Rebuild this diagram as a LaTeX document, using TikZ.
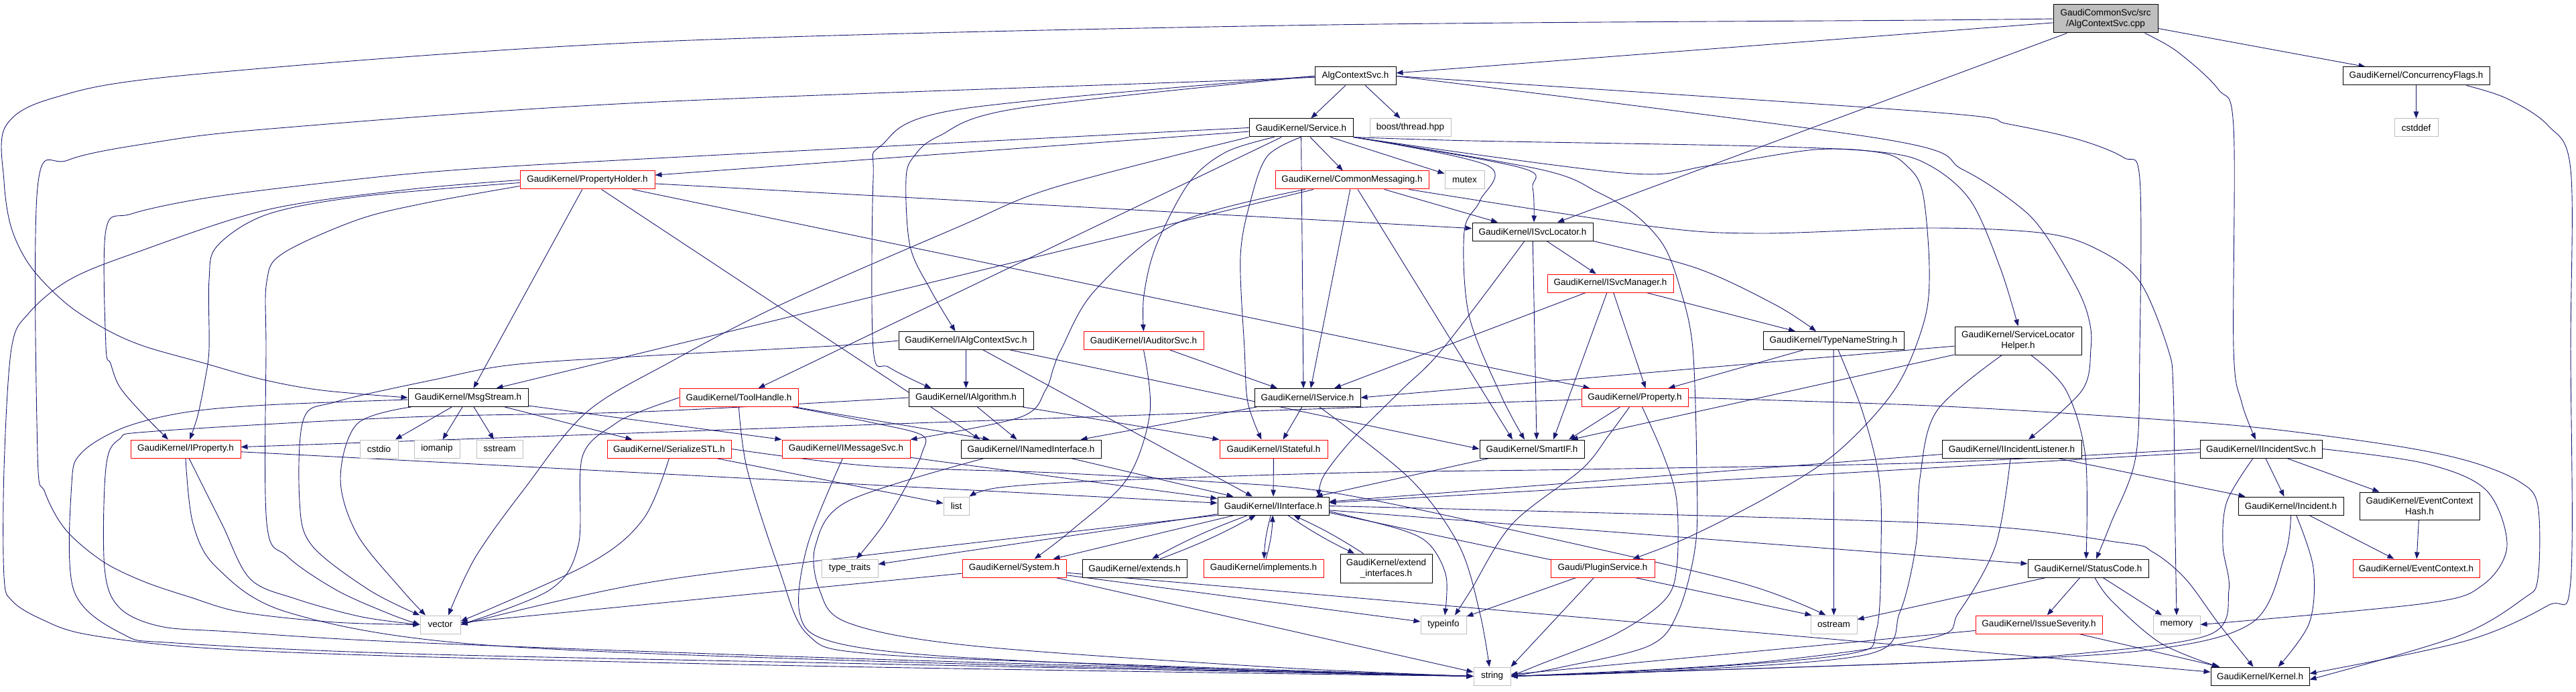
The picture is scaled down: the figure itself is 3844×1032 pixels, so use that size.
\documentclass[tikz,border=0pt]{standalone}
\usepackage{fontspec}
\newfontfamily\doxfont{Liberation Sans}
\usetikzlibrary{arrows.meta}
\definecolor{edgeblue}{HTML}{191970}
\definecolor{sysgray}{HTML}{BFBFBF}
\tikzset{>={Triangle[length=10pt,width=7.5pt]}}
\pgfdeclarelayer{edges}
\pgfsetlayers{edges,main}

\begin{document}
\begin{tikzpicture}[x=1pt,y=-1pt,
  hdr/.style={draw=black,fill=white,line width=1pt,inner sep=0pt,
    minimum height=27pt,align=center,font=\doxfont\fontsize{13.5}{16}\selectfont},
  hdrtrunc/.style={hdr,draw=red},
  hdrsys/.style={hdr,draw=sysgray},
  hdrroot/.style={hdr,fill=sysgray,minimum height=42pt},
  incl/.style={->,draw=edgeblue,line width=0.9pt},
  route/.style={incl,smooth,tension=0.55}]
\useasboundingbox (0,0) rectangle (3844,1032);

% Top rows
\node[hdrroot,minimum width=156pt] (r) at (3142,28) {GaudiCommonSvc/src\\/AlgContextSvc.cpp};
\node[hdr,minimum width=121pt] (acs) at (2022.5,113.5) {AlgContextSvc.h};
\node[hdr,minimum width=219pt] (cf) at (3605.5,113.5) {GaudiKernel/ConcurrencyFlags.h};
\node[hdrsys,minimum width=65pt] (cstddef) at (3605.5,190.5) {cstddef};
\node[hdr,minimum width=155pt] (svc) at (1941.5,190.5) {GaudiKernel/Service.h};
\node[hdrsys,minimum width=121pt] (boost) at (2104.5,190.5) {boost/thread.hpp};
\node[hdrtrunc,minimum width=201pt] (ph) at (876.5,268.5) {GaudiKernel/PropertyHolder.h};
\node[hdrtrunc,minimum width=229pt] (cm) at (2017.5,268.5) {GaudiKernel/CommonMessaging.h};
\node[hdrsys,minimum width=59pt] (mutex) at (2185.5,268.5) {mutex};
\node[hdr,minimum width=180pt] (isl) at (2287,345.5) {GaudiKernel/ISvcLocator.h};
\node[hdrtrunc,minimum width=188pt] (ism) at (2403,422.5) {GaudiKernel/ISvcManager.h};

% Middle rows
\node[hdr,minimum width=210pt] (tns) at (2736,508) {GaudiKernel/TypeNameString.h};
\node[hdr,minimum width=189pt,minimum height=42pt] (slh) at (3011.5,508) {GaudiKernel/ServiceLocator\\Helper.h};
\node[hdr,minimum width=201pt] (iacs) at (1441.5,508) {GaudiKernel/IAlgContextSvc.h};
\node[hdrtrunc,minimum width=179pt] (ias) at (1706.5,508) {GaudiKernel/IAuditorSvc.h};
\node[hdr,minimum width=179pt] (ms) at (698.5,593) {GaudiKernel/MsgStream.h};
\node[hdrtrunc,minimum width=177pt] (th) at (1102.5,593) {GaudiKernel/ToolHandle.h};
\node[hdr,minimum width=171pt] (ialg) at (1441.5,593) {GaudiKernel/IAlgorithm.h};
\node[hdr,minimum width=158pt] (is) at (1951,593) {GaudiKernel/IService.h};
\node[hdrtrunc,minimum width=159pt] (prop) at (2439.5,593) {GaudiKernel/Property.h};
\node[hdrtrunc,minimum width=164pt] (ip) at (277,669.5) {GaudiKernel/IProperty.h};
\node[hdrsys,minimum width=57pt] (cstdio) at (565.5,669.5) {cstdio};
\node[hdrsys,minimum width=68pt] (iomanip) at (652,669.5) {iomanip};
\node[hdrsys,minimum width=69pt] (sstream) at (745.5,669.5) {sstream};
\node[hdrtrunc,minimum width=185pt] (sstl) at (998.5,669.5) {GaudiKernel/SerializeSTL.h};
\node[hdrtrunc,minimum width=191pt] (ims) at (1262.5,669.5) {GaudiKernel/IMessageSvc.h};
\node[hdr,minimum width=209pt] (ini) at (1538.5,669.5) {GaudiKernel/INamedInterface.h};
\node[hdrtrunc,minimum width=161pt] (ist) at (1900.5,669.5) {GaudiKernel/IStateful.h};
\node[hdr,minimum width=156pt] (sif) at (2286,669.5) {GaudiKernel/SmartIF.h};
\node[hdr,minimum width=208pt] (iil) at (3002,669.5) {GaudiKernel/IIncidentListener.h};
\node[hdr,minimum width=182pt] (iis) at (3374,669.5) {GaudiKernel/IIncidentSvc.h};
\node[hdrsys,minimum width=38pt] (list) at (1427,754.5) {list};
\node[hdr,minimum width=166pt] (ii) at (1900,754.5) {GaudiKernel/IInterface.h};
\node[hdr,minimum width=157pt] (inc) at (3418.5,754.5) {GaudiKernel/Incident.h};
\node[hdr,minimum width=179pt,minimum height=41pt] (ech) at (3610.5,754.5) {GaudiKernel/EventContext\\Hash.h};

% Lower rows
\node[hdrsys,minimum width=84pt] (tt) at (1268,847.5) {type\_traits};
\node[hdrtrunc,minimum width=155pt] (sys) at (1513.5,847.5) {GaudiKernel/System.h};
\node[hdr,minimum width=156pt] (ext) at (1693,847.5) {GaudiKernel/extends.h};
\node[hdrtrunc,minimum width=179pt] (imp) at (1885.5,847.5) {GaudiKernel/implements.h};
\node[hdr,minimum width=137pt,minimum height=43pt] (exi) at (2068.5,847.5) {GaudiKernel/extend\\\_interfaces.h};
\node[hdrtrunc,minimum width=155pt] (plg) at (2391.5,847.5) {Gaudi/PluginService.h};
\node[hdr,minimum width=180pt] (sc) at (3116,847.5) {GaudiKernel/StatusCode.h};
\node[hdrtrunc,minimum width=189pt] (ec) at (3605.5,847.5) {GaudiKernel/EventContext.h};
\node[hdrsys,minimum width=60pt] (vector) at (657,931.5) {vector};
\node[hdrsys,minimum width=68pt] (typeinfo) at (2154,931.5) {typeinfo};
\node[hdrsys,minimum width=69pt] (ostream) at (2736.5,931.5) {ostream};
\node[hdrtrunc,minimum width=189pt] (isev) at (3042.5,931.5) {GaudiKernel/IssueSeverity.h};
\node[hdrsys,minimum width=70pt] (memory) at (3248,931.5) {memory};
\node[hdrsys,minimum width=55pt] (string) at (2226.5,1008.5) {string};
\node[hdr,minimum width=147pt] (kernel) at (3372.5,1008.5) {GaudiKernel/Kernel.h};

\begin{pgfonlayer}{edges}
% Draw includes of the source file
\draw[incl] (r) -- (acs);
\draw[incl] (r) -- (cf);
\draw[incl] (r) -- ([xshift=37pt]isl.north);
\draw[route] plot coordinates {([xshift=-20pt]r.south east) (3249,77) (3310,133) (3333,190) (3333,520) (3345,600) ([xshift=-8pt]iis.north)};
\draw[route] plot coordinates {(r.west) (2880,30) (1920,38) (960,63) (279,112) (80,146) (8,189) (6,270) (17,340) (46,398) (98,452) (156,490) (214,516) (306,542) (392,566) (480,582) (ms.west)};

% Draw AlgContextSvc.h and ConcurrencyFlags.h
\draw[incl] (acs) -- (svc);
\draw[incl] (acs) -- (boost);
\draw[route] plot coordinates {(acs.west) (1920,117) (960,153) (404,192) (220,214) (101,239) (56,280) (56,675) (67,734) (98,790) (153,837) (214,867) (282,890) (361,913) (500,928) (vector.west)};
\draw[route] plot coordinates {(acs.west) (1517,162) (1401,203) (1364,233) (1352,267) (1358,367) (1389,433) ([xshift=-16pt]iacs.north)};
\draw[route] plot coordinates {(acs.west) (1431,163) (1315,217) (1303,267) (1303,520) (1327,548) ([xshift=-52pt]ialg.north)};
\draw[route] plot coordinates {(acs.east) (2880,167) (2997,185) (3101,208) (3169,235) (3193,267) (3193,520) (3187,681) (3150,780) ([xshift=12pt]sc.north)};
\draw[route] plot coordinates {(acs.east) (2808,207) (2929,253) (3012,307) (3052,350) (3101,433) (3118,480) (3120,520) (3107,582) ([xshift=25pt]iil.north)};
\draw[incl] (cf) -- (cstddef);
\draw[route] plot coordinates {([xshift=-35pt]cf.south east) (3741,147) (3802,187) (3836,253) (3836,520) (3836,867) (3802,903) (3679,956) ([yshift=4pt]kernel.east)};

% Draw Service.h
\draw[incl] (svc) -- (ph);
\draw[incl] (svc) -- (cm);
\draw[incl] (svc) -- (mutex);
\draw[incl] (svc) -- (th);
\draw[incl] (svc) -- ([xshift=-6pt]is.north);
\draw[route] plot coordinates {(svc.south east) (2269,250) (2287,280) ([xshift=2pt]isl.north)};
\draw[route] plot coordinates {([xshift=-40pt]svc.south) (1829,227) (1774,273) (1725,367) (1707,440) (ias.north)};
\draw[route] plot coordinates {(svc.south) (1891,233) (1866,300) (1851,383) (1857,520) (1862,600) ([xshift=-18pt]ist.north)};
\draw[route] plot coordinates {(svc.south east) (2220,247) (2208,300) (2185,345) (2192,470) (2240,590) ([xshift=-11pt]sif.north)};
\draw[route] plot coordinates {(svc.south east) (2196,210) (2624,218) (2808,227) (2880,247) (2941,300) (2985,400) (slh.north)};
\draw[route] plot coordinates {(svc.south east) (2422,258) (2551,247) (2710,223) (2808,228) (2845,247) (2869,287) (2879,400) (2871,480) (2828,580) (2743,673) (2645,737) (2522,800) ([xshift=45pt]plg.north)};
\draw[route] plot coordinates {(svc.south east) (2300,253) (2385,287) (2440,320) (2483,367) (2508,433) (2526,520) (2532,700) (2530,813) (2504,913) (2461,963) (2330,995) (string.east)};
\draw[route] plot coordinates {(svc.west) (960,237) (661,255) (465,275) (303,296) (196,319) (158,343) (158,516) (165,542) (178,576) (208,612) ([xshift=-26pt]ip.north)};
\draw[route] plot coordinates {(svc.south west) (1572,280) (1431,338) (1168,453) (1000,540) (875,615) (784,727) (710,830) ([xshift=12pt]vector.north)};

% Draw CommonMessaging.h and PropertyHolder.h
\draw[incl] (cm) -- ([xshift=-52pt]isl.north);
\draw[incl] (cm) -- ([xshift=5pt]is.north);
\draw[incl] (cm) -- ([xshift=-29pt]sif.north);
\draw[incl] (cm) -- ([xshift=42pt]ms.north);
\draw[route] plot coordinates {([xshift=45pt]cm.south west) (1756,333) (1634,433) (1584,520) (1572,549) (1560,582) (1523,622) (ims.north east)};
\draw[route] plot coordinates {([xshift=-30pt]cm.south east) (2459,337) (2624,348) (2880,340) (3052,348) (3132,373) (3193,420) (3235,520) (3243,582) (3246,800) (memory.north)};
\draw[incl] (ph) -- ([xshift=8pt]ms.north);
\draw[incl] (ph) -- (isl);
\draw[incl] (ph) -- ([xshift=-67pt]prop.north);
\draw[incl] (ph) -- ([xshift=-76pt]ini.north);
\draw[route] plot coordinates {([yshift=-4pt]ph.west) (539,293) (398,320) (324,367) (312,417) (312,520) (306,566) (295,620) ([xshift=6pt]ip.north)};
\draw[route] plot coordinates {([yshift=-9pt]ph.west) (634,303) (533,328) (422,378) (398,420) (397,520) (398,780) (429,830) (502,880) (580,915) (vector.west)};
\draw[route] plot coordinates {(ph.west) (606,283) (398,313) (202,377) (104,417) (43,467) (17,520) (6,700) (6,860) (18,896) (61,923) (129,946) (300,966) (612,979) (1200,993) (1800,1003) (string.west)};

% Draw ISvcLocator.h, ISvcManager.h and TypeNameString.h
\draw[incl] (isl) -- (ism);
\draw[incl] (isl) -- ([xshift=7pt]sif.north);
\draw[route] plot coordinates {(isl.south east) (2532,400) (2650,455) ([xshift=-26pt]tns.north)};
\draw[route] plot coordinates {([xshift=-12pt]isl.south) (2153,520) (2091,582) (2018,655) (1975,710) ([xshift=68pt]ii.north)};
\draw[incl] (ism) -- ([xshift=40pt]is.north);
\draw[incl] (ism) -- ([xshift=32pt]sif.north);
\draw[incl] (ism) -- ([xshift=-57pt]tns.north);
\draw[incl] (ism) -- ([xshift=16pt]prop.north);
\draw[incl] ([xshift=-45pt]tns.south) -- ([xshift=50pt]prop.north);
\draw[incl] (tns) -- (ostream);
\draw[route] plot coordinates {([xshift=7pt]tns.south) (2779,613) (2804,713) (2807,813) (2800,940) (2760,975) (2500,998) (string.east)};

% Draw ServiceLocatorHelper.h and the incident headers
\draw[incl] (slh) -- (is.east);
\draw[incl] (slh) -- ([xshift=-20pt]sif.north east);
\draw[route] plot coordinates {([xshift=19pt]slh.south) (3083,582) (3112,681) ([xshift=-3pt]sc.north)};
\draw[route] plot coordinates {([xshift=-24pt]slh.south) (2890,613) (2865,713) (2859,813) (2835,913) (2790,975) (2500,1000) (string.east)};
\draw[incl] (iil) -- (ii);
\draw[incl] (iil) -- ([xshift=-68pt]inc.north);
\draw[route] plot coordinates {([xshift=-2pt]iil.south) (2978,813) (2923,913) (2880,952) (2600,990) (string.east)};
\draw[incl] (iis) -- (ii);
\draw[incl] (iis) -- ([xshift=-10pt]inc.north);
\draw[incl] (iis) -- ([xshift=-60pt]ech.north);
\draw[route] plot coordinates {(iis.west) (2880,690) (2360,700) (2012,705) (1645,717) (1492,727) (list.north east)};
\draw[route] plot coordinates {([xshift=-12pt]iis.south) (3323,748) (3317,814) (3326,880) (3298,946) (3100,975) (2880,988) (string.east)};
\draw[route] plot coordinates {(iis.east) (3618,691) (3710,731) (3741,814) (3704,873) (3618,900) (memory.east)};
\draw[incl] (inc) -- ([xshift=-33pt]ec.north);
\draw[route] plot coordinates {([xshift=8pt]inc.south) (3452,847) (3446,929) ([xshift=27pt]kernel.north)};
\draw[route] plot coordinates {(inc.south) (3409,830) (3360,929) (3200,970) (2880,988) (string.east)};
\draw[incl] (ech) -- (ec);

% Draw the interface headers
\draw[incl] (iacs) -- (ialg);
\draw[incl] (iacs) -- ([xshift=-31pt]ii.north);
\draw[incl] (iacs) -- (sif.west);
\draw[route] plot coordinates {(iacs.west) (1242,516) (960,531) (765,544) (649,566) (502,599) (453,625) (447,747) (465,813) (551,880) (vector.north west)};
\draw[incl] (ias) -- ([xshift=-45pt]is.north);
\draw[route] plot coordinates {(ias.south) (1716,615) (1682,714) (1600,790) ([xshift=30pt]sys.north)};
\draw[incl] (ialg) -- ([xshift=-21pt]ini.north);
\draw[incl] (ialg) -- (ist.north west);
\draw[route] plot coordinates {(ialg.west) (960,614) (612,622) (233,643) (178,655) (158,698) (156,847) (178,906) (239,934) (343,942) (612,958) (1300,983) (string.west)};
\draw[incl] (is) -- ([xshift=74pt]ini.north);
\draw[incl] (is) -- ([xshift=14pt]ist.north);
\draw[route] plot coordinates {([xshift=18pt]is.south) (2104,714) (2177,813) (2208,913) ([xshift=-4pt]string.north)};
\draw[incl] (prop) -- (ip);
\draw[incl] (prop) -- ([xshift=55pt]sif.north);
\draw[route] plot coordinates {([xshift=-8pt]prop.south) (2400,650) (2360,700) (2257,781) (2195,880) ([xshift=17pt]typeinfo.north)};
\draw[route] plot coordinates {([xshift=11pt]prop.south) (2483,681) (2502,747) (2502,847) (2483,896) (2410,946) (2300,990) (string.east)};
\draw[route] plot coordinates {(prop.east) (2880,605) (3169,622) (3372,638) (3575,665) (3685,688) (3759,718) (3787,754) (3787,863) (3765,893) (3667,949) ([yshift=-5pt]kernel.east)};

% Draw MsgStream.h and its neighbours
\draw[incl] (ms) -- (cstdio);
\draw[incl] (ms) -- (iomanip);
\draw[incl] (ms) -- (sstream);
\draw[incl] (ms) -- ([xshift=-55pt]sstl.north);
\draw[incl] (ms) -- (ims.north west);
\draw[route] plot coordinates {([xshift=-85pt]ms.south) (533,632) (508,714) (533,797) (600,880) ([xshift=-22pt]vector.north)};
\draw[route] plot coordinates {([yshift=-3pt]ms.west) (398,604) (276,615) (184,638) (122,675) (107,721) (110,880) (184,946) (263,959) (612,975) (1300,990) (string.west)};
\draw[incl] (ip) -- (ii);
\draw[route] plot coordinates {([xshift=5pt]ip.south) (331,781) (373,863) (441,893) (540,920) (vector.west)};
\draw[route] plot coordinates {(ip.south) (288,781) (324,847) (429,913) (700,960) (1300,986) (string.west)};
\draw[incl] (th) -- ([xshift=-62pt]ini.north);
\draw[route] plot coordinates {([xshift=80pt]th.south) (1300,630) (1376,649) (1376,675) (1358,714) (1320,780) ([xshift=10pt]tt.north)};
\draw[route] plot coordinates {(th.south) (1115,700) (1162,847) (1205,946) (1300,975) (1700,992) (string.west)};
\draw[route] plot coordinates {(th.west) (960,612) (918,632) (869,681) (863,813) (820,880) (vector.east)};
\draw[incl] (sstl) -- (list);
\draw[route] plot coordinates {(sstl.south) (960,774) (880,840) ([yshift=5pt]vector.east)};
\draw[route] plot coordinates {(sstl.east) (1300,695) (1572,705) (1800,718) (1990,735) (2300,800) (2600,870) ([xshift=-12pt]ostream.north)};
\draw[incl] (ims) -- (ii);
\draw[route] plot coordinates {([xshift=-5pt]ims.south) (1205,813) (1193,913) (1235,955) (1400,978) (1800,997) (string.west)};
\draw[incl] (ini) -- (ii);
\draw[route] plot coordinates {([xshift=-70pt]ini.south) (1266,747) (1217,813) (1223,880) (1266,929) (1450,963) (1900,995) (string.west)};
\draw[incl] (ist) -- (ii);
\draw[incl] (sif) -- (ii);

% Draw IInterface.h and its mixins
\draw[incl] (ii) to[bend right=4] (ext);
\draw[incl] (ext) to[bend right=4] (ii);
\draw[incl] (ii) to[bend right=6] (imp);
\draw[incl] (imp) to[bend right=6] (ii);
\draw[incl] (ii) to[bend right=4] (exi);
\draw[incl] (exi) to[bend right=4] (ii);
\draw[incl] (ii) -- ([xshift=58pt]sys.north);
\draw[incl] (ii) -- (tt);
\draw[incl] (ii) -- (sc);
\draw[incl] ([yshift=4pt]ii.south east) -- ([xshift=-33pt]ostream.north);
\draw[route] plot coordinates {([yshift=-8pt]ii.east) (2091,790) (2134,813) (2158,860) ([xshift=2pt]typeinfo.north)};
\draw[route] plot coordinates {(ii.east) (2880,780) (3163,809) (3212,823) (3261,863) (3310,929) ([xshift=-10pt]kernel.north)};
\draw[route] plot coordinates {(ii.south west) (1310,826) (960,870) (vector.east)};

% Draw System.h, PluginService.h, StatusCode.h and IssueSeverity.h
\draw[incl] (sys) -- (vector);
\draw[incl] (sys) -- (typeinfo);
\draw[incl] (sys) -- (string);
\draw[incl] (sys) -- (kernel);
\draw[incl] (plg) -- (typeinfo);
\draw[incl] (plg) -- (string.north east);
\draw[incl] (sc) -- (isev);
\draw[incl] (sc) -- (memory);
\draw[incl] (sc) -- (ostream);
\draw[route] plot coordinates {([xshift=10pt]sc.south) (3151,896) (3224,959) ([xshift=-62pt]kernel.north)};
\draw[incl] (isev) -- (kernel);
\draw[incl] (isev) -- (string);
\end{pgfonlayer}
\end{tikzpicture}
\end{document}
